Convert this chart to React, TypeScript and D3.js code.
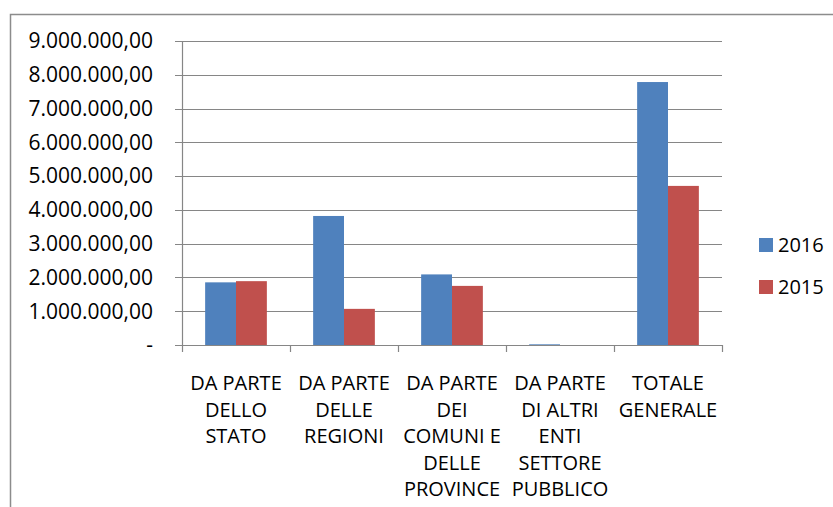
import React from "react";
import * as d3 from "d3";

const categories = [
  "DA PARTE DELLO STATO",
  "DA PARTE DELLE REGIONI",
  "DA PARTE DEI COMUNI E DELLE PROVINCE",
  "DA PARTE DI ALTRI ENTI SETTORE PUBBLICO",
  "TOTALE GENERALE",
];
const categoryLines = [
  ["DA PARTE", "DELLO", "STATO"],
  ["DA PARTE", "DELLE", "REGIONI"],
  ["DA PARTE", "DEI", "COMUNI E", "DELLE", "PROVINCE"],
  ["DA PARTE", "DI ALTRI", "ENTI", "SETTORE", "PUBBLICO"],
  ["TOTALE", "GENERALE"],
];
const seriesNames = ["2016", "2015"];
const values2016 = [1855000, 3820000, 2090000, 20000, 7785000];
const values2015 = [1890000, 1070000, 1750000, 0, 4710000];
const yTicks = [0, 1000000, 2000000, 3000000, 4000000, 5000000, 6000000, 7000000, 8000000, 9000000];
const colors = ["#4F81BD", "#C0504D"];

const fmt = (v: number) => {
  if (v === 0) return "-";
  const s = d3.format(",.2f")(v);
  return s.replace(/,/g, "#").replace(".", ",").replace(/#/g, ".");
};

export default function App() {
  const W = 833, H = 507;
  const left = 182, right = 722, top = 41, bottom = 345;
  const font = "'Open Sans', sans-serif";
  const fs = 20;
  const y = d3.scaleLinear().domain([0, 9000000]).range([bottom, top]);
  const x = d3.scaleBand().domain(categories).range([left, right]).paddingInner(0).paddingOuter(0);
  const bw = x.bandwidth() / 3.5;
  const series = [values2016, values2015];
  const grid = "#868686";

  return (
    <div style={{ position: "fixed", left: 0, top: 0, width: W, height: H, background: "#fff" }}>
      <svg width={W} height={H} style={{ display: "block" }}>
        <rect x={10.5} y={14.5} width={900} height={600} fill="none" stroke="#8c8c8c" strokeWidth={1.5} />
        {yTicks.map((t) => (
          <g key={t}>
            <line x1={left - 7} x2={right} y1={Math.round(y(t)) + 0.5} y2={Math.round(y(t)) + 0.5} stroke={grid} strokeWidth={1.2} />
            <text x={153} y={y(t)} dy="0.35em" textAnchor="end" fontFamily={font} fontSize={21} fill="#000">
              {fmt(t)}
            </text>
          </g>
        ))}
        <line x1={left + 0.5} x2={left + 0.5} y1={top} y2={bottom + 7} stroke={grid} strokeWidth={1.2} />
        {categories.map((c) => (
          <line key={c} x1={(x(c) as number) + x.bandwidth() + 0.5} x2={(x(c) as number) + x.bandwidth() + 0.5} y1={bottom} y2={bottom + 7} stroke={grid} strokeWidth={1.2} />
        ))}
        {series.map((vals, si) =>
          categories.map((c, i) => {
            const x0 = (x(c) as number) + x.bandwidth() / 2 - bw + si * bw;
            const yv = y(vals[i]);
            return (
              <rect key={c + si} x={x0} y={yv} width={bw} height={Math.max(0, bottom - yv)} fill={colors[si]} />
            );
          })
        )}
        {categories.map((c, i) => (
          <text key={c} textAnchor="middle" fontFamily={font} fontSize={fs} fill="#000">
            {categoryLines[i].map((l, j) => (
              <tspan key={j} x={(x(c) as number) + x.bandwidth() / 2} y={390 + j * 26.5}>
                {l}
              </tspan>
            ))}
          </text>
        ))}
        {seriesNames.map((s, i) => (
          <g key={s}>
            <rect x={759} y={238 + i * 42} width={14} height={14} fill={colors[i]} />
            <text x={778} y={245 + i * 42} dy="0.35em" fontFamily={font} fontSize={fs} fill="#000">
              {s}
            </text>
          </g>
        ))}
      </svg>
    </div>
  );
}
